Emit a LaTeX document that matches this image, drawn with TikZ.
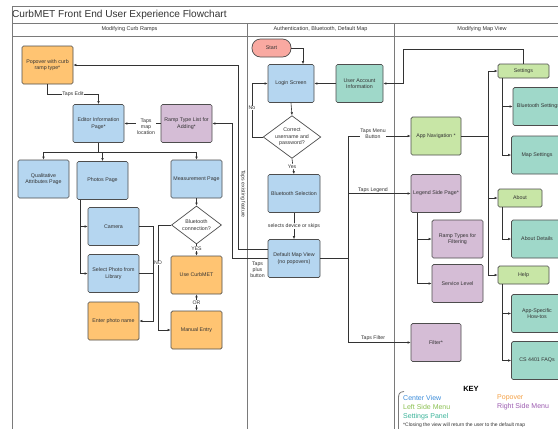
\documentclass[tikz,border=0pt]{standalone}
\usepackage{fontspec}
\setmainfont{Liberation Sans}
\usetikzlibrary{arrows.meta,shapes.geometric,calc}
\definecolor{cblue}{HTML}{B5D6F0}
\definecolor{corange}{HTML}{FFC472}
\definecolor{cpurple}{HTML}{D5BDD6}
\definecolor{cgreen}{HTML}{C8E6A6}
\definecolor{cteal}{HTML}{9FD8C9}
\definecolor{csalmon}{HTML}{F9A9A1}
\definecolor{bord}{HTML}{4D4D4D}
\definecolor{lin}{HTML}{333333}
\definecolor{frm}{HTML}{7A7A7A}
\definecolor{kblue}{HTML}{3C8DDB}
\definecolor{korange}{HTML}{F5A146}
\definecolor{kgreen}{HTML}{8CC152}
\definecolor{kpurple}{HTML}{9C5BB0}
\definecolor{kteal}{HTML}{3BB49A}
\definecolor{txt}{HTML}{333333}
\tikzset{
  box/.style={draw=bord, line width=0.7pt, rounded corners=1.5pt, minimum width=51pt,
    minimum height=38pt, align=center, inner sep=1pt, text=txt,
    font=\fontsize{5.3}{6.4}\selectfont},
  cview/.style={box, fill=cblue},
  pover/.style={box, fill=corange},
  rmenu/.style={box, fill=cpurple},
  lmenu/.style={box, fill=cgreen},
  spanel/.style={box, fill=cteal},
  startbox/.style={box, fill=csalmon, rounded corners=8.5pt, minimum width=39pt, minimum height=18pt},
  decision/.style={draw=bord, line width=0.7pt, fill=white, shape=diamond, shape aspect=1.35,
    inner sep=0pt, align=center, text=txt, font=\fontsize{5.3}{6.4}\selectfont},
  conn/.style={draw=lin, line width=0.6pt, -{Latex[length=3pt,width=2.6pt]}},
  plain/.style={draw=lin, line width=0.6pt},
  lbl/.style={font=\fontsize{5.2}{6.2}\selectfont, fill=white, inner sep=0.6pt, align=center, text=txt},
  frame/.style={draw=frm, line width=0.8pt},
  hdr/.style={font=\fontsize{5.5}{6.5}\selectfont, text=txt, inner sep=0pt},
  keytxt/.style={font=\fontsize{7}{8}\selectfont, anchor=west, inner sep=0pt},
}
\begin{document}
\begin{tikzpicture}[x=1pt,y=-1pt]
\clip (0,0) rectangle (558,429);
\fill[white] (0,0) rectangle (558,429);
% frame
\draw[frame] (12,6) rectangle (640,460);
\draw[frame] (12,23) -- (640,23);
\draw[frame] (12,36) -- (640,36);
\draw[frame] (247,23) -- (247,460);
\draw[frame] (394,23) -- (394,460);
\node[anchor=west, inner sep=0pt, font=\fontsize{10.1}{12}\selectfont, text=txt] (title) at (12,14.5) {CurbMET Front End User Experience Flowchart};
\node[hdr] (h1) at (129.5,29.5) {Modifying Curb Ramps};
\node[hdr] (h2) at (320.5,29.5) {Authentication, Bluetooth, Default Map};
\node[hdr] (h3) at (482,29.5) {Modifying Map View};

% lane 1
\node[pover] (pop) at (47.5,65) {Popover with curb\\ramp type*};
\node[cview] (edit) at (98.5,123.5) {Editor Information\\Page*};
\node[rmenu] (rtl) at (186.5,123.5) {Ramp Type List for\\Adding*};
\node[cview] (qual) at (43.5,179) {Qualitative\\Attributes Page};
\node[cview] (photos) at (102.5,180.5) {Photos Page};
\node[cview] (meas) at (196.5,179) {Measurement Page};
\node[cview] (cam) at (113.5,226.5) {Camera};
\node[cview] (sel) at (113.5,273.5) {Select Photo from\\Library};
\node[pover] (ename) at (113.5,321) {Enter photo name};
\node[decision, minimum width=50pt, minimum height=38pt] (bt) at (196.5,225) {Bluetooth\\connection?};
\node[pover] (use) at (196.5,275) {Use CurbMET};
\node[pover] (man) at (196.5,330) {Manual Entry};

% lane 2
\node[startbox] (start) at (271.5,48) {Start};
\node[cview, minimum width=46pt] (login) at (291,83.5) {Login Screen};
\node[spanel, minimum width=47pt] (uai) at (359.5,83.5) {User Account\\Information};
\node[decision, minimum width=54pt, minimum height=40pt] (cup) at (292,137) {Correct\\username and\\password?};
\node[cview, minimum width=52pt] (bts) at (294,193.5) {Bluetooth Selection};
\node[cview, minimum width=52pt] (dmv) at (294,258.5) {Default Map View\\(no popovers)};

% lane 3
\node[lmenu, minimum width=50pt] (appnav) at (436,136) {App Navigation *};
\node[rmenu, minimum width=50pt] (legend) at (436,193.5) {Legend Side Page*};
\node[rmenu] (rtf) at (457.5,239) {Ramp Types for\\Filtering};
\node[rmenu] (svc) at (457.5,283.5) {Service Level};
\node[rmenu, minimum width=50pt] (filter) at (436,342.5) {Filter*};
\node[lmenu, minimum height=14pt] (settings) at (523.5,71) {Settings};
\node[spanel] (btset) at (538.5,106.5) {Bluetooth Settings};
\node[spanel] (mapset) at (537,155) {Map Settings};
\node[lmenu, minimum width=44pt, minimum height=18pt] (about) at (520,198) {About};
\node[spanel] (aboutd) at (537,239) {About Details};
\node[lmenu, minimum height=18pt] (help) at (523.5,275) {Help};
\node[spanel] (howto) at (537,313.5) {App-Specific\\How-tos};
\node[spanel] (faq) at (537,360.5) {CS 4401 FAQs};

% coordinates
\coordinate (te) at (98.5,94);
\coordinate (eb) at (98.5,152);
\coordinate (pb) at ($(photos.south west)+(4,0)$);
\coordinate (camr) at (153,226.5);
\coordinate (selr) at (153,273.5);
\coordinate (nol) at (158,225);
\coordinate (tef) at (238,249);
\coordinate (tpb) at (232,258.5);
\coordinate (nox) at (252,137);
\coordinate (uc) at (403,49);
\coordinate (bus) at (348,258.5);
\coordinate (mb) at (488,136);

% lane 1 connectors
\draw[conn] (pop.south) |- (te) -- (edit.north);
\node[lbl] (ltapsedit) at (73,94) {Taps Edit};
\draw[conn] (rtl.west) -- (edit.east);
\node[lbl] (ltml) at (146,126.5) {Taps\\map\\location};
\draw[plain] (edit.south) -- (eb);
\draw[conn] (eb) -| (qual.north);
\draw[conn] (eb) -| (photos.north);
\draw[conn] (eb) -| (meas.north);
\draw[conn] (pb) |- (cam.west);
\draw[conn] (pb) |- (sel.west);
\draw[conn] (cam.east) -- (camr) |- (ename.east);
\draw[plain] (sel.east) -- (selr);
\draw[conn] (meas.south) -- (bt.north);
\draw[conn] (bt.south) -- (use.north);
\node[lbl] (lyes) at (196.5,248.5) {YES};
\draw[draw=lin, line width=0.6pt, {Latex[length=3pt,width=2.6pt]}-{Latex[length=3pt,width=2.6pt]}] (use.south) -- (man.north);
\node[lbl] (lor) at (196.5,302.5) {OR};
\draw[conn] (bt.west) -- (nol) |- (man.west);
\node[lbl] (lno1) at (158,263) {NO};

% cross-lane connectors
\draw[conn] ([yshift=9.5pt]dmv.west) -- (tef) |- (pop.east);
\node[lbl, rotate=-90] (ltef) at (243,194) {Taps existing feature};
\draw[conn] (dmv.west) -- (tpb) |- (rtl.east);
\node[lbl, fill=none] (ltpb) at (257.5,269.5) {Taps\\plus\\button};

% lane 2 connectors
\draw[conn] (start.east) -| ([xshift=12pt]login.north);
\draw[conn] (uai.west) -- (login.east);
\draw[conn] (settings.north) |- (uc) |- (uai.east);
\draw[conn] (login.south) -- (cup.north);
\draw[conn] (cup.west) -- (nox) |- (login.west);
\node[lbl] (lno2) at (252,108) {No};
\draw[conn] (cup.south) -- (bts.north);
\node[lbl] (lyes2) at (292,166.5) {Yes};
\draw[conn] (bts.south) -- (dmv.north);
\node[lbl] (lsel) at (294,226) {selects device or skips};

% lane 3 connectors
\draw[plain] (dmv.east) -- (bus);
\draw[conn] (bus) |- (appnav.west);
\draw[conn] (bus) |- (legend.west);
\draw[conn] (bus) |- (filter.west);
\node[lbl] (ltmb) at (373,134) {Taps Menu\\Button};
\node[lbl, anchor=south] (ltl) at (373,193) {Taps Legend};
\node[lbl, anchor=south] (ltf) at (373,341.5) {Taps Filter};
\draw[conn] ([xshift=7pt]legend.south west) |- (rtf.west);
\draw[conn] ([xshift=7pt]legend.south west) |- (svc.west);
\draw[plain] (appnav.east) -- (mb);
\draw[conn] (mb) |- (settings.west);
\draw[conn] (mb) |- (about.west);
\draw[conn] (mb) |- (help.west);
\draw[conn] ([xshift=5pt]settings.south west) |- (btset.west);
\draw[conn] ([xshift=5pt]settings.south west) |- (mapset.west);
\draw[conn] ([xshift=5pt]about.south west) |- (aboutd.west);
\draw[conn] ([xshift=5pt]help.south west) |- (howto.west);
\draw[conn] ([xshift=5pt]help.south west) |- (faq.west);

% key
\node[font=\bfseries\fontsize{7.5}{9}\selectfont, text=black, inner sep=0pt] (key) at (471,388.5) {KEY};
\draw[draw=frm, line width=0.8pt] (404,391.5) .. controls (399,392) and (398.5,394) .. (398.5,399) -- (398.5,440);
\node[keytxt, text=kblue] (k1) at (403,398) {Center View};
\node[keytxt, text=korange] (k2) at (497,398) {Popover};
\node[keytxt, text=kgreen] (k3) at (403,406.5) {Left Side Menu};
\node[keytxt, text=kpurple] (k4) at (497,406.5) {Right Side Menu};
\node[keytxt, text=kteal] (k5) at (403,417) {Settings Panel};
\node[keytxt, text=txt, font=\fontsize{5}{6}\selectfont] (k6) at (403,425.5) {*Closing the view will return the user to the default map};
\end{tikzpicture}
\end{document}
